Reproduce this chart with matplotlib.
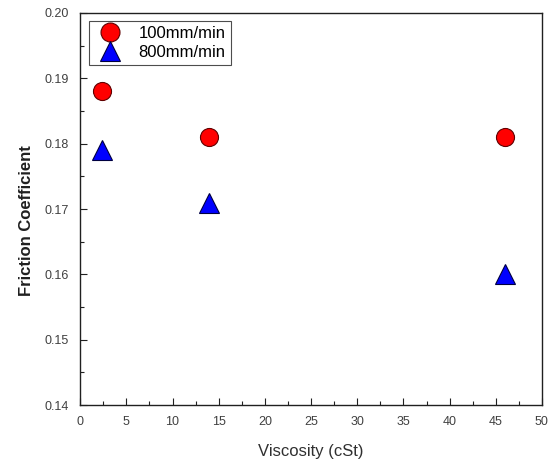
import matplotlib
matplotlib.use("Agg")
import matplotlib.pyplot as plt
from matplotlib.ticker import MultipleLocator

plt.rcParams['font.family'] = ['Liberation Sans', 'DejaVu Sans']

# viscosity in cSt
viscosity = [2.4, 14, 46]
# friction coefficient per sliding speed
fric_100 = [0.188, 0.181, 0.181]
fric_800 = [0.179, 0.171, 0.160]

fig = plt.figure(figsize=(5.53, 4.63), dpi=100)
ax = fig.add_axes([0.145, 0.125, 0.835, 0.847])

ax.plot(viscosity, fric_100, 'o', ms=13, mfc='red', mec='#600000', mew=0.8,
        label='100mm/min', linestyle='none')
ax.plot(viscosity, fric_800, '^', ms=14, mfc='blue', mec='#000040', mew=0.8,
        label='800mm/min', linestyle='none')

ax.set_xlim(0, 50)
ax.set_ylim(0.14, 0.20)
ax.xaxis.set_major_locator(MultipleLocator(5))
ax.xaxis.set_minor_locator(MultipleLocator(2.5))
ax.yaxis.set_major_locator(MultipleLocator(0.01))
ax.yaxis.set_minor_locator(MultipleLocator(0.005))
ax.yaxis.set_major_formatter(matplotlib.ticker.FormatStrFormatter('%.2f'))

ax.tick_params(which='both', direction='in', top=False, right=False,
               labelsize=9, labelcolor='#404040', color='#202020')
ax.tick_params(which='major', length=5, width=0.8, pad=8)
ax.tick_params(which='minor', length=3, width=0.8)
for sp in ax.spines.values():
    sp.set_linewidth(1.0)
    sp.set_color('#202020')

ax.set_xlabel('Viscosity (cSt)', fontsize=12, color='#303030', labelpad=11)
ax.set_ylabel('Friction Coefficient', fontsize=12, fontweight='bold',
              color='#202020')
# label sits a bit below the axis centre in the original
ax.yaxis.set_label_coords(-0.10, 0.47)

leg = ax.legend(loc='upper left', fontsize=12, frameon=True, fancybox=False,
                edgecolor='#202020', handletextpad=0.7, borderpad=0.3,
                labelspacing=0.2, handlelength=2.0, borderaxespad=0.5,
                markerscale=1.05)
leg.get_frame().set_linewidth(0.8)

fig.savefig('out.png', dpi=100)
